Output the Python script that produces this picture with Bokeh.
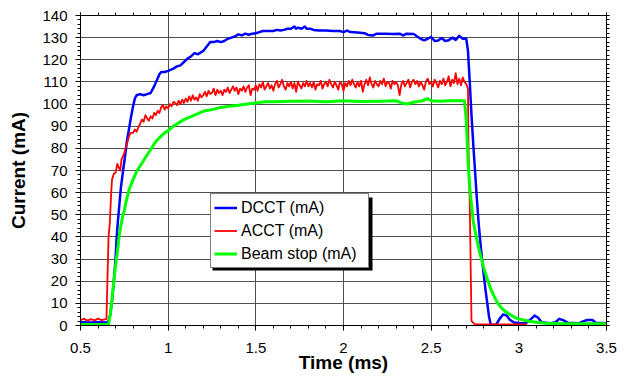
from bokeh.plotting import figure
from bokeh.models import (Range1d, LinearAxis, SingleIntervalTicker, NumeralTickFormatter,
                          Legend, LegendItem, BoxAnnotation, CustomJSTickFormatter)
from bokeh.embed import file_html
from bokeh.resources import INLINE

# ---------------- data ----------------
dcct_t = [0.50, 0.55, 0.60, 0.65, 0.66, 0.67, 0.68, 0.69, 0.70, 0.705, 0.71, 0.72, 0.73, 0.743,
          0.755, 0.766, 0.775, 0.79, 0.80, 0.81, 0.82, 0.84, 0.86, 0.88, 0.90, 0.92, 0.94, 0.95,
          0.96, 0.98, 1.00, 1.03, 1.05, 1.07, 1.09, 1.11, 1.13, 1.15, 1.17, 1.18, 1.20, 1.22,
          1.24, 1.26, 1.28, 1.30, 1.32, 1.34, 1.36, 1.38, 1.40, 1.42, 1.44, 1.46, 1.48, 1.50,
          1.52, 1.54, 1.56, 1.60, 1.62, 1.64, 1.66, 1.68, 1.70, 1.72, 1.73, 1.74, 1.76, 1.78,
          1.79, 1.81, 1.83, 1.86, 1.90, 1.94, 1.98, 2.00, 2.02, 2.04, 2.08, 2.12, 2.14, 2.17,
          2.19, 2.24, 2.28, 2.32, 2.34, 2.36, 2.40, 2.42, 2.44, 2.46, 2.48, 2.50, 2.52, 2.54,
          2.56, 2.58, 2.60, 2.62, 2.64, 2.66, 2.68, 2.70, 2.71, 2.72, 2.73, 2.74, 2.75, 2.76,
          2.77, 2.78, 2.79, 2.80, 2.81, 2.82, 2.83, 2.84, 2.87, 2.89, 2.91, 2.93, 2.95, 2.97,
          3.00, 3.04, 3.07, 3.09, 3.11, 3.13, 3.18, 3.21, 3.23, 3.25, 3.28, 3.34, 3.37, 3.39,
          3.42, 3.44, 3.50]
dcct_i = [1.5, 1.4, 1.5, 1.4, 2, 5, 11, 20, 30, 38, 44, 53, 62, 70,
          77, 84, 88, 95, 99, 102.5, 104, 104.5, 104, 104.5, 105, 108, 111.5, 113.5,
          114.5, 114.5, 115, 116, 117, 117.5, 119, 120.5, 121.5, 123, 122.5, 123, 124, 126,
          128, 128, 128.5, 128, 128.5, 129.5, 130, 130.5, 131.5, 131, 131.8, 131.3, 131.8, 132,
          132.5, 133, 133, 133, 133.5, 133.2, 133.5, 134, 134, 135, 134, 134.5, 134, 135,
          134, 134, 133.5, 133.2, 133.2, 133, 133, 132.5, 133.2, 132.5, 132.3, 132, 131.2, 131,
          131.8, 131.8, 131.7, 131.8, 131, 131.8, 131.7, 130.5, 129.5, 128.8, 129.5, 130.3, 128.5, 128.7,
          129.8, 128.5, 128.8, 130, 129, 130.8, 129.5, 129.5, 124, 110, 95, 82, 70, 58,
          47, 38, 30, 23, 16, 10, 4, 0.3, 0.3, 3, 5, 4.5, 2.5, 1.5,
          1, 1, 3, 4.5, 3.5, 1.5, 1, 1.5, 3, 2.5, 1.2, 1, 2, 2.5,
          2.5, 1.2, 1]

acct_t = [0.50, 0.52, 0.54, 0.56, 0.58, 0.60, 0.62, 0.64, 0.648, 0.655, 0.66, 0.667, 0.675, 0.68,
          0.69, 0.70, 0.71, 0.72, 0.727, 0.734, 0.74, 0.75, 0.756, 0.765, 0.775, 0.785, 0.80,
          0.81, 0.82, 0.83, 0.84, 0.85, 0.86, 0.87, 0.88, 0.89, 0.90, 0.91, 0.92, 0.93, 0.94,
          0.95, 0.96, 0.97, 0.98, 0.99,
          1.00, 1.01, 1.02, 1.03, 1.04, 1.05, 1.06, 1.07, 1.08, 1.09,
          1.10, 1.11, 1.12, 1.13, 1.14, 1.15, 1.16, 1.17, 1.18, 1.19,
          1.20, 1.21, 1.22, 1.23, 1.24, 1.25, 1.26, 1.27, 1.28, 1.29,
          1.30, 1.31, 1.32, 1.33, 1.34, 1.35, 1.36, 1.37, 1.38, 1.39,
          1.40, 1.41, 1.42, 1.43, 1.44, 1.45, 1.46, 1.47, 1.48, 1.49,
          1.50, 1.51, 1.52, 1.53, 1.54, 1.55, 1.56, 1.57, 1.58, 1.59,
          1.60, 1.61, 1.62, 1.63, 1.64, 1.65, 1.66, 1.67, 1.68, 1.69,
          1.70, 1.71, 1.72, 1.73, 1.74, 1.75, 1.76, 1.77, 1.78, 1.79,
          1.80, 1.81, 1.82, 1.83, 1.84, 1.85, 1.86, 1.87, 1.88, 1.89,
          1.90, 1.91, 1.92, 1.93, 1.94, 1.95, 1.96, 1.97, 1.98, 1.99,
          2.00, 2.01, 2.02, 2.03, 2.04, 2.05, 2.06, 2.07, 2.08, 2.09,
          2.10, 2.11, 2.12, 2.13, 2.14, 2.15, 2.16, 2.17, 2.18, 2.19,
          2.20, 2.21, 2.22, 2.23, 2.24, 2.25, 2.26, 2.27, 2.28, 2.29,
          2.30, 2.31, 2.32, 2.33, 2.34, 2.35, 2.36, 2.37, 2.38, 2.39,
          2.40, 2.41, 2.42, 2.43, 2.44, 2.45, 2.46, 2.47, 2.48, 2.49,
          2.50, 2.51, 2.52, 2.53, 2.54, 2.55, 2.56, 2.57, 2.58, 2.59,
          2.60, 2.61, 2.62, 2.63, 2.64, 2.65, 2.66, 2.67, 2.68, 2.69,
          2.70, 2.71, 2.713, 2.72, 2.73, 2.75, 2.85, 2.95, 3.045]
acct_i = [2.5, 3.0, 2.2, 2.9, 2.3, 3.1, 2.4, 2.8, 3.0, 25, 40, 46, 60, 66,
          68.5, 69, 73, 71, 70, 75, 76, 78, 80, 82, 85, 87, 87,
          88.5, 87.5, 89.5, 91, 93, 92, 95, 93.5, 92.5, 94.5, 93.5, 96, 95, 97,
          96, 98.5, 99.5, 97.5, 99,
          98, 100, 99, 101, 100.5, 99.5, 101.5, 100, 102, 100.5,
          102.5, 101, 103.5, 101.5, 104, 102, 103, 101.5, 104.5, 103,
          104, 105.5, 103.5, 106, 104.5, 105, 107, 104, 106.5, 105,
          106, 104, 106.5, 105.5, 107.5, 105, 106.5, 108, 106, 107.5,
          104.5, 107, 106, 108, 105.5, 107.5, 108.5, 104, 107, 106.5,
          108.5, 106, 109, 107.5, 110, 106.5, 108, 109.5, 107, 108.5,
          106, 109, 110.5, 107.5, 109, 111, 108, 106.5, 109.5, 108,
          110, 107, 109.5, 105.5, 110, 108.5, 107, 109.5, 108, 110.5,
          108, 109.5, 107.5, 110, 106.5, 109, 108.5, 110.5, 107, 109,
          110, 108, 111, 109, 107.5, 110, 108.5, 106.5, 110, 109,
          106, 109.5, 108, 110.5, 108.5, 111, 109, 107.5, 110, 108,
          110.5, 105.5, 109, 111, 108.5, 112, 109, 107.5, 110.5, 109,
          108, 110.5, 109, 111.5, 108, 110, 109.5, 107, 110.5, 109,
          110, 108.5, 104, 109, 110.5, 108, 109.5, 111, 107.5, 110,
          111, 109, 110.5, 108, 110, 108.5, 106.5, 110, 111.5, 109,
          110, 108, 111, 109.5, 107.5, 110.5, 109, 111.5, 108.5, 110,
          112.5, 108, 111, 109.5, 114, 109, 111.5, 108.5, 112, 110,
          109, 107, 80, 55, 2, 0.5, 0.5, 0.5, 0.5]

beam_t = [0.50, 0.60, 0.66, 0.67, 0.68, 0.69, 0.70, 0.71, 0.72, 0.73, 0.74, 0.75, 0.76, 0.77,
          0.78, 0.80, 0.82, 0.84, 0.86, 0.88, 0.90, 0.92, 0.94, 0.96, 0.98, 1.00, 1.03, 1.06,
          1.09, 1.12, 1.15, 1.18, 1.21, 1.25, 1.30, 1.35, 1.40, 1.45, 1.50, 1.55, 1.60, 1.65,
          1.70, 1.80, 1.90, 2.00, 2.10, 2.20, 2.30, 2.33, 2.36, 2.40, 2.45, 2.48, 2.50, 2.55,
          2.60, 2.65, 2.69, 2.70, 2.71, 2.72, 2.74, 2.76, 2.78, 2.80, 2.82, 2.84, 2.86, 2.88,
          2.90, 2.92, 2.95, 2.98, 3.00, 3.05, 3.10, 3.15, 3.25, 3.35, 3.50]
beam_i = [0.5, 0.5, 0.6, 5, 12, 20, 27, 33, 40, 45, 49, 52, 56, 59,
          62, 66, 69.5, 72, 74.5, 77, 79.5, 82, 84, 85.5, 87, 88, 90, 91.5,
          93, 94, 95, 96, 97, 97.5, 98.5, 99, 99.5, 100, 100.5, 101, 101, 101.2,
          101.3, 101.4, 101, 101.5, 101.2, 101.3, 101.5, 100.5, 100, 100.8, 101.5, 102.5, 101.5, 101.3,
          101.5, 101.5, 101.5, 93, 75, 62, 47, 39, 32, 26, 21, 16.5, 13, 10,
          8, 6.5, 5, 3.5, 3, 2, 1.5, 1, 0.8, 0.8, 0.8]

series_names = ["DCCT (mA)", "ACCT (mA)", "Beam stop (mA)"]
series_colors = ["#0000FF", "#FF0000", "#00FF00"]

FONT = "Liberation Sans"

p = figure(width=625, height=378, output_backend="svg", toolbar_location=None,
           x_range=Range1d(0.5, 3.5), y_range=Range1d(0, 140),
           min_border_left=80, min_border_right=19, min_border_top=15, min_border_bottom=53,
           background_fill_color="white", border_fill_color="white")
p.outline_line_color = "black"
p.outline_line_width = 1

# axes
p.xaxis.ticker = SingleIntervalTicker(interval=0.5, num_minor_ticks=5)
p.yaxis.ticker = SingleIntervalTicker(interval=10, num_minor_ticks=5)
p.xaxis.formatter = NumeralTickFormatter(format="0.[0]")
for ax in (p.xaxis[0], p.yaxis[0]):
    ax.axis_line_color = "black"
    ax.major_tick_line_color = "black"
    ax.minor_tick_line_color = "black"
    ax.major_tick_in = 0
    ax.minor_tick_in = 0
    ax.major_tick_out = 5
    ax.minor_tick_out = 3
    ax.major_label_text_font = FONT
    ax.major_label_text_font_size = "15px"
    ax.major_label_text_color = "black"
    ax.axis_label_text_font = FONT
    ax.axis_label_text_font_style = "bold"
    ax.axis_label_text_color = "black"

p.xaxis.axis_label = "Time (ms)"
p.xaxis.axis_label_text_font_size = "19px"
p.xaxis.major_label_standoff = 12
p.xaxis.axis_label_standoff = -4

p.yaxis.axis_label = "Current (mA)"
p.yaxis.axis_label_text_font_size = "19px"
p.yaxis.major_label_standoff = 8
p.yaxis.axis_label_standoff = 10

blank = CustomJSTickFormatter(code="return ''")
right_ax = LinearAxis(ticker=SingleIntervalTicker(interval=10, num_minor_ticks=5), formatter=blank,
                      major_label_text_font_size="0px", major_label_standoff=0,
                      major_tick_in=0, minor_tick_in=0, major_tick_out=3, minor_tick_out=3,
                      axis_line_color="black")
top_ax = LinearAxis(ticker=SingleIntervalTicker(interval=0.5, num_minor_ticks=5), formatter=blank,
                    major_label_text_font_size="0px", major_label_standoff=0,
                    major_tick_in=0, minor_tick_in=0, major_tick_out=3, minor_tick_out=3,
                    axis_line_color="black")
p.add_layout(right_ax, "right")
p.add_layout(top_ax, "above")

# grid
p.xgrid.grid_line_color = "#505050"
p.ygrid.grid_line_color = "#505050"
p.xgrid.grid_line_width = 1
p.ygrid.grid_line_width = 1

# lines
r_d = p.line(dcct_t, dcct_i, line_color=series_colors[0], line_width=2.5, line_join="round")
r_a = p.line(acct_t, acct_i, line_color=series_colors[1], line_width=1.8, line_join="round")
r_b = p.line(beam_t, beam_i, line_color=series_colors[2], line_width=3, line_join="round")

# legend shadow
shadow = BoxAnnotation(left=132, right=132 + 160, bottom=55, top=55 + 73,
                       left_units="screen", right_units="screen",
                       bottom_units="screen", top_units="screen",
                       fill_color="black", fill_alpha=1, line_color=None)
p.add_layout(shadow)

legend = Legend(items=[LegendItem(label=series_names[0], renderers=[r_d]),
                       LegendItem(label=series_names[1], renderers=[r_a]),
                       LegendItem(label=series_names[2], renderers=[r_b])],
                location=(130, 57), orientation="vertical",
                label_text_font=FONT, label_text_font_size="16px", label_text_color="black",
                glyph_width=23, glyph_height=21, label_height=21, label_width=124,
                label_standoff=4, spacing=2, padding=3, margin=0,
                border_line_color="black", border_line_width=1,
                background_fill_color="white", background_fill_alpha=1)
p.add_layout(legend)

open("out.html", "w").write(file_html(p, INLINE))
